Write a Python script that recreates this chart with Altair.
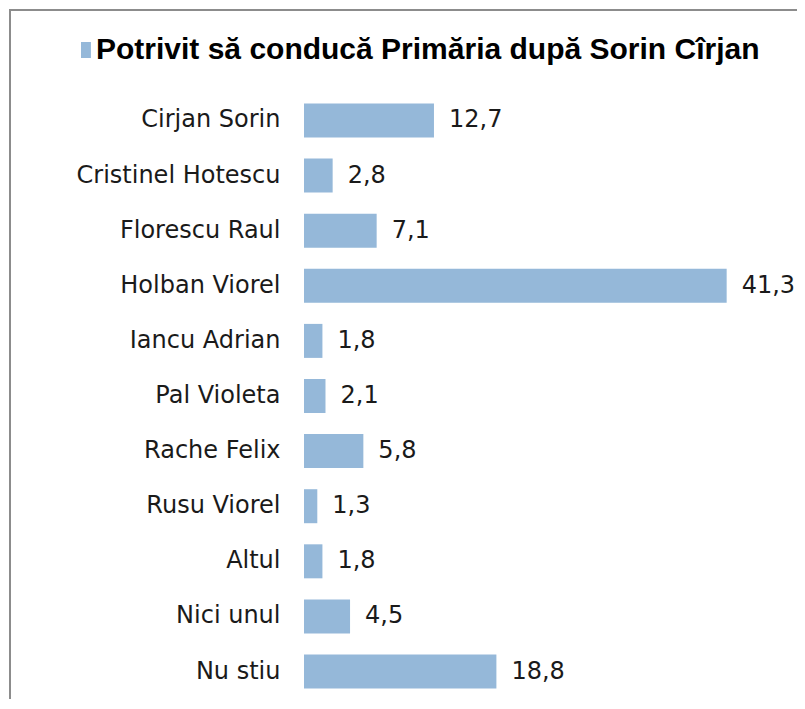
import altair as alt
import pandas as pd

categories = ["Cirjan Sorin", "Cristinel Hotescu", "Florescu Raul", "Holban Viorel",
              "Iancu Adrian", "Pal Violeta", "Rache Felix", "Rusu Viorel",
              "Altul", "Nici unul", "Nu stiu"]
values = [12.7, 2.8, 7.1, 41.3, 1.8, 2.1, 5.8, 1.3, 1.8, 4.5, 18.8]
series_name = "Potrivit să conducă Primăria după Sorin Cîrjan"

df = pd.DataFrame({
    "cat": categories,
    "val": values,
    "lab": [f"{v:.1f}".replace(".", ",") for v in values],
    "series": [series_name] * len(values),
})

W, H = 481, 606
FONT = "DejaVu Sans"
BAR = "#95B8D9"

y_enc = alt.Y("cat:N", sort=categories, title=None,
              scale=alt.Scale(paddingInner=0.383, paddingOuter=0.19),
              axis=alt.Axis(domain=False, ticks=False, labelFont=FONT,
                            labelFontSize=24, labelColor="#1a1a1a",
                            labelPadding=24, labelLimit=400))
x_enc = alt.X("val:Q", title=None, scale=alt.Scale(domain=[0, 47], nice=False),
              axis=None)

bars = alt.Chart(df).mark_bar(color=BAR).encode(
    x=x_enc, y=y_enc,
    color=alt.Color("series:N", title=None,
                    scale=alt.Scale(range=[BAR]),
                    legend=alt.Legend(orient="none", legendX=-238, legendY=-58,
                                      symbolType="M0,-1H1.24V1H0Z",
                                      symbolSize=256, symbolStrokeWidth=0,
                                      labelFont="Liberation Sans", labelFontSize=30,
                                      labelFontWeight="bold", labelColor="#000000",
                                      labelOffset=0, labelLimit=900, padding=0)),
)

texts = alt.Chart(df).mark_text(align="left", baseline="middle", dx=15,
                                font=FONT, fontSize=24, color="#1a1a1a").encode(
    x=x_enc, y=alt.Y("cat:N", sort=categories), text="lab:N")

frame_left = alt.Chart(df).mark_rule(color="#8c8c8c", strokeWidth=2).encode(
    x=alt.value(-294), y=alt.value(-84), y2=alt.value(H + 20))
frame_top = alt.Chart(df).mark_rule(color="#8c8c8c", strokeWidth=2).encode(
    x=alt.value(-295), x2=alt.value(W + 20), y=alt.value(-83))

chart = alt.layer(frame_left, frame_top, bars, texts).properties(
    width=W, height=H,
    autosize=alt.AutoSizeParams(type="none"),
    padding={"left": 296, "top": 85, "right": 12, "bottom": 0},
).configure_view(stroke=None)

chart.save("out.html", embed_options={"renderer": "svg", "actions": False})
